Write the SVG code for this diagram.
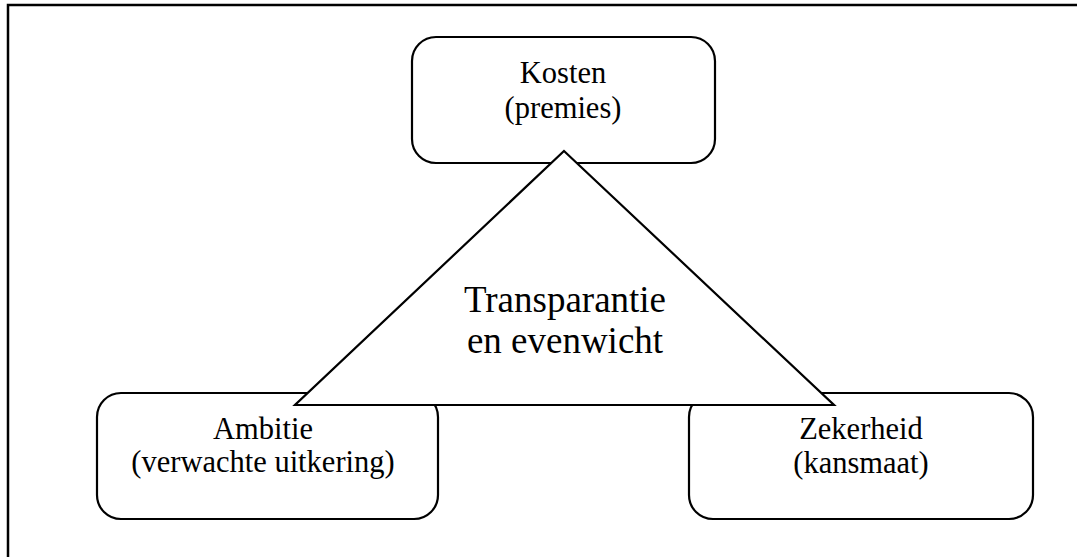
<svg xmlns="http://www.w3.org/2000/svg" width="1077" height="557" viewBox="0 0 1077 557">
<style>
.box{fill:#fff;stroke:#000;stroke-width:2.2}
.tri{fill:#fff;stroke:#000;stroke-width:2.2;stroke-linejoin:miter}
.t{font-family:"Liberation Serif","Times New Roman",serif;font-size:30.5px;fill:#000;text-anchor:middle}
.big{font-size:37px}
</style>
<rect width="1077" height="557" fill="#fff"/>
<path d="M8,557 V5 H1077" fill="none" stroke="#000" stroke-width="2.5"/>
<g id="kosten">
<rect class="box" x="412" y="37" width="303" height="126" rx="24"/>
<text class="t" x="563" y="83">Kosten</text>
<text class="t" x="563" y="118">(premies)</text>
</g>
<g id="ambitie">
<rect class="box" x="97" y="393" width="341" height="126" rx="24"/>
<text class="t" x="263" y="439">Ambitie</text>
<text class="t" x="263" y="472">(verwachte uitkering)</text>
</g>
<g id="zekerheid">
<rect class="box" x="689" y="393" width="344" height="126" rx="24"/>
<text class="t" x="861" y="439">Zekerheid</text>
<text class="t" x="861" y="473">(kansmaat)</text>
</g>
<g id="connectors">
<polygon class="tri" points="564,151 834,405 295,405"/>
</g>
<g id="transparantie">
<text class="t big" x="565" y="312">Transparantie</text>
<text class="t big" x="565" y="353">en evenwicht</text>
</g>
</svg>
